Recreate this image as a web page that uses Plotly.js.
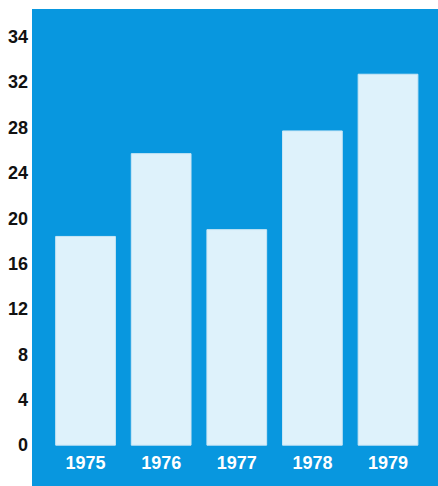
<!DOCTYPE html>
<html>
<head>
<meta charset="utf-8">
<script src="https://cdn.plot.ly/plotly-3.0.1.min.js"></script>
<style>
  html, body { margin: 0; padding: 0; background: #ffffff; }
  #chart { width: 438px; height: 486px; }
</style>
</head>
<body>
<div id="chart"></div>
<script>
// Yearly values, 1975-1979
const years = ['1975', '1976', '1977', '1978', '1979'];
const values = [18.4, 25.7, 19.0, 27.7, 32.7];

// Value-axis ticks as printed
const tickVals = [0, 4, 8, 12, 16, 20, 24, 28, 32, 36];
const tickText = ['0', '4', '8', '12', '16', '20', '24', '28', '32', '34'];

const panelBlue = '#0897df';
const barFill = '#def2fb';

const trace = {
  type: 'bar',
  x: years,
  y: values,
  marker: { color: barFill, line: { color: '#c9e6f5', width: 1 } },
  hoverinfo: 'x+y'
};

const layout = {
  width: 438,
  height: 486,
  margin: { l: 32, r: 0, t: 9, b: 0 },
  paper_bgcolor: '#ffffff',
  plot_bgcolor: panelBlue,
  bargap: 0.21,
  showlegend: false,
  font: { family: 'Liberation Sans, Arial, sans-serif' },
  xaxis: {
    type: 'category',
    range: [-0.708, 4.661],
    anchor: 'free',
    position: 0.075,
    showgrid: false,
    zeroline: false,
    showline: false,
    ticks: '',
    tickfont: { color: '#ffffff', size: 18, weight: 'bold' },
    fixedrange: true
  },
  yaxis: {
    range: [-3.6, 38.45],
    tickmode: 'array',
    tickvals: tickVals,
    ticktext: tickText,
    showgrid: false,
    zeroline: false,
    showline: false,
    ticks: '',
    ticklabelstandoff: 3,
    tickfont: { color: '#111111', size: 18, weight: 'bold' },
    fixedrange: true
  }
};

Plotly.newPlot('chart', [trace], layout, { displayModeBar: false, staticPlot: true });
</script>
</body>
</html>
